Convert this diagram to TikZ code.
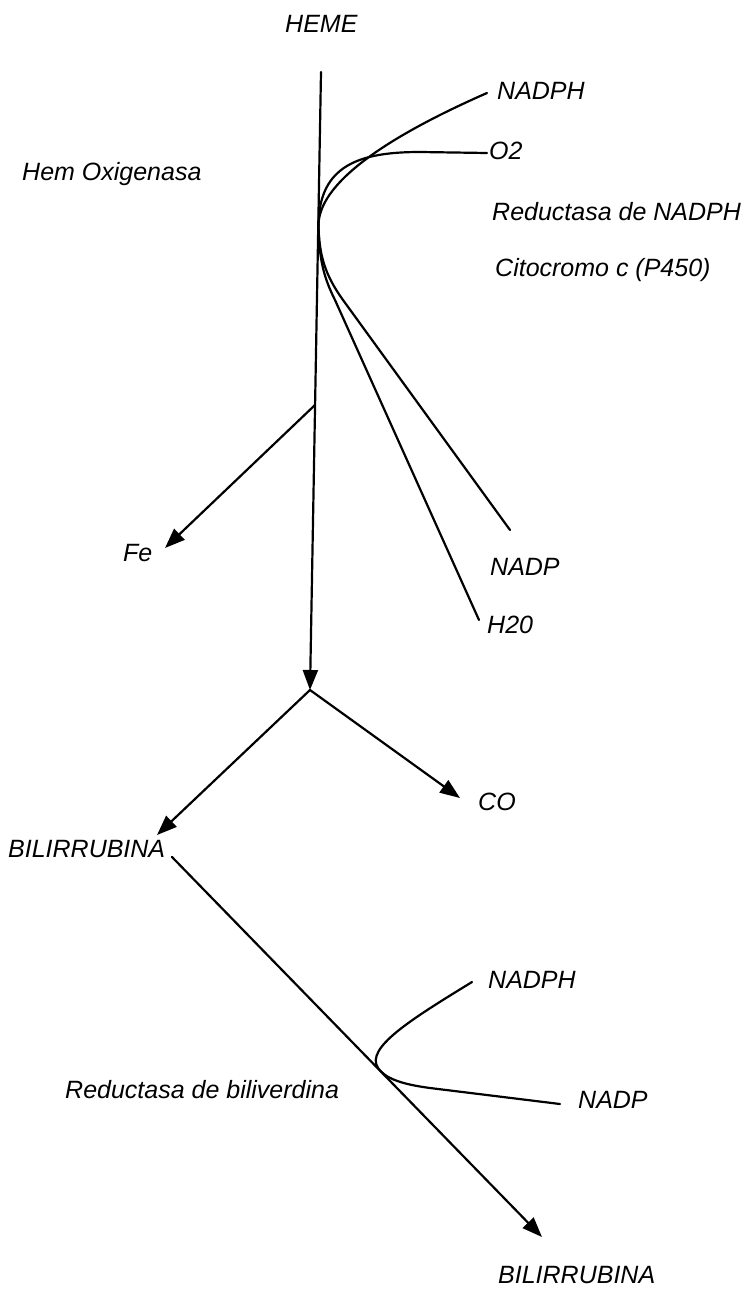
\documentclass[tikz,border=0pt]{standalone}
\usepackage{fontspec}
\setmainfont{Liberation Sans}
\usetikzlibrary{arrows.meta}
\begin{document}
\begin{tikzpicture}[x=1pt,y=-1pt,
  lbl/.style={anchor=base west,inner sep=0pt,font=\fontsize{25}{29}\selectfont\itshape},
  ln/.style={line width=2.2pt,line cap=round},
  arr/.style={ln,-{Triangle[length=20pt,width=15pt]}}]
\useasboundingbox (0,0) rectangle (748,1292);
% labels
\node[lbl] (heme) at (285,33) {HEME};
\node[lbl] (nadph1) at (497,100) {NADPH};
\node[lbl] (o2) at (489,160) {O2};
\node[lbl] (hemox) at (22,181) {Hem Oxigenasa};
\node[lbl] (redn) at (492,220) {Reductasa de NADPH};
\node[lbl] (cito) at (495,276) {Citocromo c (P450)};
\node[lbl] (nadp1) at (490,575) {NADP};
\node[lbl] (h2o) at (487,633) {H20};
\node[lbl] (fe) at (123,561) {Fe};
\node[lbl] (co) at (478,810) {CO};
\node[lbl] (bil1) at (8,857) {BILIRRUBINA};
\node[lbl] (nadph2) at (488,988) {NADPH};
\node[lbl] (redb) at (65,1098) {Reductasa de biliverdina};
\node[lbl] (nadp2) at (578,1108) {NADP};
\node[lbl] (bil2) at (498,1283) {BILIRRUBINA};
% coordinates
\coordinate (top) at (321,72);
\coordinate (split) at (310,690);
\coordinate (junc) at (318.5,225);
\coordinate (feout) at (315,405);
\coordinate (fetip) at (165,548);
\coordinate (cotip) at (460,798);
\coordinate (biltip) at (157,835);
\coordinate (bstart) at (172,857);
\coordinate (bend) at (542,1237);
\coordinate (bjunc) at (378,1068);
\coordinate (nadph1e) at (487,93);
\coordinate (o2e) at (487,153);
\coordinate (nadp1e) at (510,530);
\coordinate (h2oe) at (479,620);
\coordinate (nadph2e) at (472,982);
\coordinate (nadp2e) at (560,1104);
% main vertical
\draw[arr] (top) -- (split);
\draw[arr] (feout) -- (fetip);
\draw[arr] (split) -- (biltip);
\draw[arr] (split) -- (cotip);
\draw[arr] (bstart) -- (bend);
% top cofactors
\draw[ln] (junc) .. controls (319,185) and (380,140) .. (nadph1e);
\draw[ln] (junc) .. controls (319,165) and (360,152) .. (420,152) -- (o2e);
\draw[ln] (junc) .. controls (319,255) and (325,275) .. (343,300) -- (nadp1e);
\draw[ln] (junc) .. controls (319,260) and (324,278) .. (335,300) -- (h2oe);
% bottom cofactors
\draw[ln] (nadph2e) .. controls (410,1020) and (365,1048) .. (bjunc);
\draw[ln] (bjunc) .. controls (385,1078) and (400,1084) .. (430,1088) -- (nadp2e);
\end{tikzpicture}
\end{document}
